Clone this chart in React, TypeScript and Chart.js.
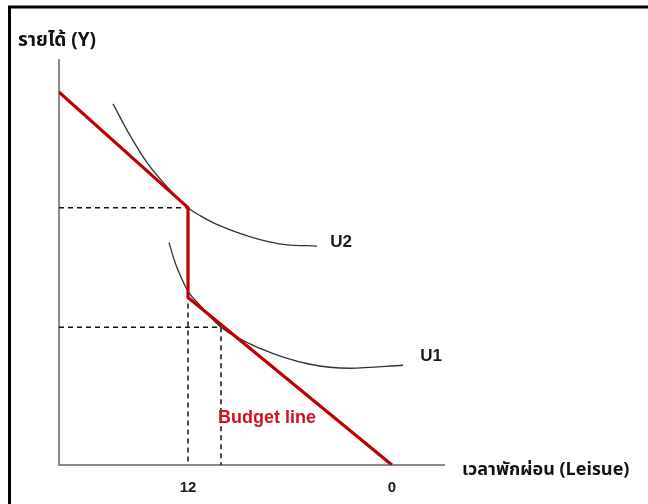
import React, { useEffect, useRef } from "react";
import { Chart, registerables } from "chart.js";

Chart.register(...registerables);

// Leisure (x, hours) and income (y)
const axisLeisure = [-3.06, 19.59]; // right end, left end (x axis reversed)
const axisIncome = [0, 40.6];

const budgetLeisure = [19.6, 12, 12, 0];
const budgetIncome = [37.4, 25.8, 16.8, 0];

const u2Leisure = [16.41, 15.53, 14.41, 13.24, 12, 11.29, 10.41, 9.24, 7.76, 6.29, 4.41];
const u2Income = [36.2, 33.4, 30.3, 27.9, 25.8, 25.0, 24.2, 23.4, 22.6, 22.1, 21.95];

const u1Leisure = [13.12, 12.76, 12.35, 12.0, 11.29, 10.06, 7.76, 4.82, 2.47, -0.65];
const u1Income = [22.3, 20.3, 18.6, 17.4, 16.0, 13.8, 11.7, 10.1, 9.7, 10.0];

const guideLeisure = [12, 10.06];
const guideIncome = [25.8, 13.8];

const tickValues = [12, 0];
const tickLabels = ["12", "0"];

const curveNames = ["U2", "U1"];
const curveLabelLeisure = [3.0, -2.3];
const curveLabelIncome = [22.3, 10.9];

const budgetName = "Budget line";
const budgetLabelLeisure = [7.35];
const budgetLabelIncome = [4.7];

const yTitle = "รายได้ (Y)";
const xTitle = "เวลาพักผ่อน (Leisue)";

const RED = "#c00000";
const THAI_FONT = '"Noto Sans Thai", "Noto Sans", "DejaVu Sans", sans-serif';
const LATIN_FONT = '"Liberation Sans", Arial, sans-serif';

const zip = (xs: number[], ys: number[]) => xs.map((x, i) => ({ x, y: ys[i] }));

const textPlugin = {
  id: "textPlugin",
  beforeDraw(chart: any) {
    const ctx = chart.ctx;
    ctx.save();
    ctx.fillStyle = "#ffffff";
    ctx.fillRect(0, 0, chart.width, chart.height);
    ctx.strokeStyle = "#000000";
    ctx.lineWidth = 3;
    ctx.beginPath();
    ctx.moveTo(9.5, chart.height + 5);
    ctx.lineTo(9.5, 7);
    ctx.lineTo(chart.width + 5, 7);
    ctx.stroke();
    ctx.restore();
  },
  afterDraw(chart: any) {
    const ctx = chart.ctx;
    const xs = chart.scales.x;
    const ys = chart.scales.y;
    const area = chart.chartArea;
    ctx.save();
    ctx.textBaseline = "middle";

    // curve labels
    ctx.fillStyle = "#1a1a1a";
    ctx.font = `bold 17px ${LATIN_FONT}`;
    ctx.textAlign = "center";
    curveNames.forEach((n, i) => {
      ctx.fillText(n, xs.getPixelForValue(curveLabelLeisure[i]), ys.getPixelForValue(curveLabelIncome[i]));
    });

    // budget label
    ctx.fillStyle = "#d0121c";
    ctx.font = `bold 18px ${LATIN_FONT}`;
    ctx.fillText(budgetName, xs.getPixelForValue(budgetLabelLeisure[0]), ys.getPixelForValue(budgetLabelIncome[0]));

    // axis titles
    ctx.fillStyle = "#111111";
    ctx.textAlign = "left";
    ctx.font = `bold 19px ${THAI_FONT}`;
    ctx.fillText(yTitle, 18, area.top - 18);
    ctx.font = `bold 18px ${THAI_FONT}`;
    ctx.fillText(xTitle, area.right + 18, area.bottom + 6);
    ctx.restore();
  },
};

export default function App() {
  const ref = useRef<HTMLCanvasElement | null>(null);

  useEffect(() => {
    if (!ref.current) return;
    const hLine = (i: number) => [
      { x: axisLeisure[1], y: guideIncome[i] },
      { x: guideLeisure[i], y: guideIncome[i] },
      { x: guideLeisure[i], y: axisIncome[0] },
    ];
    const chart = new Chart(ref.current, {
      type: "line",
      data: {
        datasets: [
          {
            label: "Budget line",
            data: zip(budgetLeisure, budgetIncome),
            borderColor: RED,
            borderWidth: 3.2,
            pointRadius: 0,
            tension: 0,
            borderJoinStyle: "miter",
          },
          {
            label: "U2",
            data: zip(u2Leisure, u2Income),
            borderColor: "#333333",
            borderWidth: 1.3,
            pointRadius: 0,
            cubicInterpolationMode: "monotone",
          },
          {
            label: "U1",
            data: zip(u1Leisure, u1Income),
            borderColor: "#333333",
            borderWidth: 1.3,
            pointRadius: 0,
            cubicInterpolationMode: "monotone",
          },
          {
            label: "guide1",
            data: hLine(0),
            borderColor: "#111111",
            borderWidth: 1.5,
            borderDash: [5, 4],
            pointRadius: 0,
            tension: 0,
          },
          {
            label: "guide2",
            data: hLine(1),
            borderColor: "#111111",
            borderWidth: 1.5,
            borderDash: [5, 4],
            pointRadius: 0,
            tension: 0,
          },
        ],
      },
      options: {
        animation: false,
        responsive: false,
        maintainAspectRatio: false,
        layout: { padding: { left: 59, top: 60, right: 204, bottom: -7 } },
        plugins: {
          legend: { display: false },
          tooltip: { enabled: false },
          title: { display: false },
        },
        scales: {
          x: {
            type: "linear",
            reverse: true,
            min: axisLeisure[0],
            max: axisLeisure[1],
            grid: { display: false, drawTicks: false },
            border: { display: true, color: "#8a8a8a", width: 2 },
            afterBuildTicks: (axis: any) => {
              axis.ticks = tickValues.map((v) => ({ value: v }));
            },
            ticks: {
              padding: 14,
              autoSkip: false,
              maxRotation: 0,
              color: "#1a1a1a",
              font: { family: LATIN_FONT, size: 15, weight: "bold" },
              callback: (v: any) => tickLabels[tickValues.indexOf(Number(v))] ?? "",
            },
          },
          y: {
            type: "linear",
            min: axisIncome[0],
            max: axisIncome[1],
            grid: { display: false, drawTicks: false },
            border: { display: true, color: "#8a8a8a", width: 2 },
            ticks: { display: false },
          },
        },
      },
      plugins: [textPlugin],
    } as any);
    return () => chart.destroy();
  }, []);

  return (
    <div style={{ position: "fixed", left: 0, top: 0, width: 648, height: 504, background: "#fff" }}>
      <canvas ref={ref} width={648} height={504} style={{ width: 648, height: 504, display: "block" }} />
    </div>
  );
}
